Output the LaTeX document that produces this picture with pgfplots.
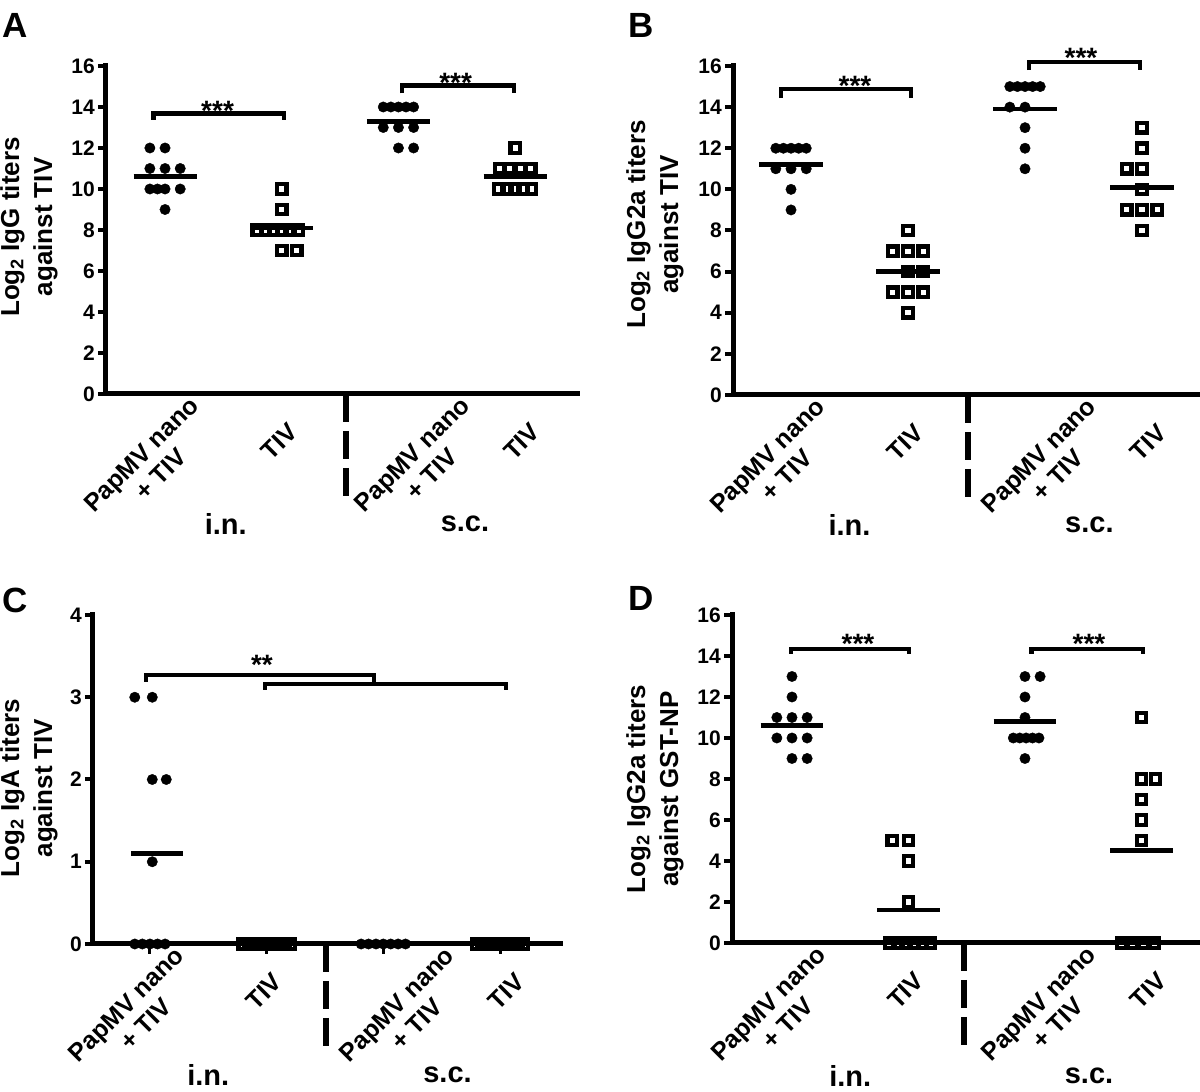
\documentclass[border=0pt]{standalone}
\usepackage{fontspec}
\setmainfont{Liberation Sans}
\usepackage{pgfplots}
\pgfplotsset{compat=1.18}

\pgfplotsset{
  panel/.style={
    scale only axis, anchor=south west, clip=false,
    axis x line=bottom, axis y line=left,
    axis line style={line width=5pt,-,line cap=rect},
    ymin=0,
    tick align=outside,
    major tick length=8pt,
    ytick style={line width=4pt,black},
    xtick style={draw=none},
    xtick={1,3.32},
    xticklabels={{PapMV nano\\+ TIV},{PapMV nano\\+ TIV}},
    xticklabel style={font=\bfseries\fontsize{25}{28}\selectfont, align=center, anchor=center, rotate=45, xshift=-54pt, yshift=-34pt},
    extra x ticks={2,4.08},
    extra x tick labels={TIV,TIV},
    extra x tick style={xticklabel style={xshift=24.3pt, yshift=8.2pt}},
    yticklabel style={font=\bfseries\fontsize{21}{25}\selectfont, inner xsep=3pt},
    /pgf/number format/assume math mode=true,
    every axis y label/.style={at={(axis description cs:0,0.5)}, anchor=center, rotate=90,
       font=\bfseries\fontsize{26}{33}\selectfont, align=center},
  },
  circ/.style={only marks, mark=*, mark size=5.2pt, mark options={fill=black, draw=black, line width=0.4pt}},
  sq/.style={only marks, mark=square, mark size=4.7pt, mark options={draw=black, line width=4.3pt, fill=none}},
  meanl/.style={no marks, line width=4.5pt, black},
}
\tikzset{
  brk/.style={line width=4.5pt, black},
  divl/.style={line width=6pt, black, dash pattern=on 28pt off 9pt},
}
\newcommand{\starfont}{\bfseries\fontsize{28}{32}\selectfont}
\newcommand{\grpfont}{\bfseries\fontsize{29}{34}\selectfont}
\newcommand{\pfont}{\bfseries\fontsize{35}{40}\selectfont}

\begin{document}
\begin{tikzpicture}[x=1pt,y=1pt]
\useasboundingbox (0pt,0pt) rectangle (1200pt,1092pt);

% ---------------- Panel A ----------------
\begin{axis}[panel, at={(106pt,698pt)}, width=471pt, height=328pt,
  xmin=0.494, xmax=4.53, ymax=16, ytick={0,2,...,16},
  ylabel={Log\textsubscript{2} IgG titers\\against TIV}, ylabel style={xshift=3pt, yshift=77pt}]
\addplot[circ] coordinates {(0.87,12)(1,12)(0.87,11)(1,11)(1.13,11)(0.87,10)(0.935,10)(1,10)(1.13,10)(1,9)};
\addplot[sq] coordinates {(2,10)(2,9)(1.79,8)(1.86,8)(1.93,8)(2,8)(2.07,8)(2.14,8)(2,7)(2.13,7)};
\addplot[circ] coordinates {(2.87,14)(2.935,14)(3,14)(3.065,14)(3.13,14)(2.87,13)(3,13)(3.13,13)(3,12)(3.13,12)};
\addplot[sq] coordinates {(4,12)(3.865,11)(3.955,11)(4.045,11)(4.135,11)(3.86,10)(3.93,10)(4,10)(4.07,10)(4.14,10)};
\addplot[meanl] coordinates {(0.73,10.6)(1.27,10.6)};
\addplot[meanl] coordinates {(1.73,8.1)(2.27,8.1)};
\addplot[meanl] coordinates {(2.73,13.3)(3.27,13.3)};
\addplot[meanl] coordinates {(3.73,10.6)(4.27,10.6)};
\draw[brk] (axis cs:0.9,13.38) |- (axis cs:2.02,13.68) -- (axis cs:2.02,13.38);
\draw[brk] (axis cs:3.03,14.66) |- (axis cs:3.99,15.05) -- (axis cs:3.99,14.66);
\node[font=\starfont, anchor=base, yshift=-7pt] at (axis cs:1.45,13.68) {***};
\node[font=\starfont, anchor=base, yshift=-7pt] at (axis cs:3.49,15.05) {***};
\draw[divl] (axis cs:2.55,0) -- ++(0pt,-102pt);
\node[font=\grpfont] at (axis cs:1.52,0) [yshift=-130pt] {i.n.};
\node[font=\grpfont] at (axis cs:3.57,0) [yshift=-130pt] {s.c.};
\end{axis}

% ---------------- Panel B ----------------
\begin{axis}[panel, at={(733pt,697pt)}, width=466pt, height=329pt,
  xmin=0.504, xmax=4.487, ymax=16, ytick={0,2,...,16},
  ylabel={Log\textsubscript{2} IgG2a titers\\against TIV}, ylabel style={xshift=6pt, yshift=78pt}]
\addplot[circ] coordinates {(0.87,12)(0.935,12)(1,12)(1.065,12)(1.13,12)(0.87,11)(1,11)(1.13,11)(1,10)(1,9)};
\addplot[sq] coordinates {(2,8)(1.87,7)(2,7)(2.13,7)(2,6)(2.13,6)(1.87,5)(2,5)(2.13,5)(2,4)};
\addplot[circ] coordinates {(2.87,15)(2.935,15)(3,15)(3.065,15)(3.13,15)(2.87,14)(3,14)(3,13)(3,12)(3,11)};
\addplot[sq] coordinates {(4,13)(4,12)(3.87,11)(4,11)(4,10)(3.87,9)(4,9)(4.13,9)(4,8)};
\addplot[meanl] coordinates {(0.73,11.2)(1.27,11.2)};
\addplot[meanl] coordinates {(1.73,6.0)(2.27,6.0)};
\addplot[meanl] coordinates {(2.73,13.9)(3.27,13.9)};
\addplot[meanl] coordinates {(3.73,10.1)(4.27,10.1)};
\draw[brk] (axis cs:0.914,14.44) |- (axis cs:2.025,14.88) -- (axis cs:2.025,14.44);
\draw[brk] (axis cs:3.034,15.8) |- (axis cs:3.983,16.2) -- (axis cs:3.983,15.8);
\node[font=\starfont, anchor=base, yshift=-6pt] at (axis cs:1.547,14.88) {***};
\node[font=\starfont, anchor=base, yshift=-6pt] at (axis cs:3.478,16.2) {***};
\draw[divl] (axis cs:2.513,0) -- ++(0pt,-102pt);
\node[font=\grpfont] at (axis cs:1.5,0) [yshift=-130pt] {i.n.};
\node[font=\grpfont] at (axis cs:3.55,0) [yshift=-130pt] {s.c.};
\end{axis}

% ---------------- Panel C ----------------
\begin{axis}[panel, at={(93pt,148pt)}, width=467pt, height=329pt,
  xmin=0.512, xmax=4.514, ymax=4, ytick={0,1,2,3,4},
  ylabel={Log\textsubscript{2} IgA titers\\against TIV}, ylabel style={xshift=-8.5pt, yshift=64pt}]
\addplot[circ] coordinates {(0.87,3)(1.02,3)(1.02,2)(1.14,2)(1.02,1)(0.87,0)(0.935,0)(1,0)(1.065,0)(1.13,0)};
\addplot[sq] coordinates {(1.8,0)(1.844,0)(1.889,0)(1.933,0)(1.978,0)(2.022,0)(2.067,0)(2.111,0)(2.156,0)(2.2,0)};
\addplot[circ] coordinates {(2.81,0)(2.873,0)(2.937,0)(3,0)(3.063,0)(3.127,0)(3.19,0)};
\addplot[sq] coordinates {(3.8,0)(3.844,0)(3.889,0)(3.933,0)(3.978,0)(4.022,0)(4.067,0)(4.111,0)(4.156,0)(4.2,0)};
\addplot[meanl] coordinates {(0.84,1.1)(1.28,1.1)};
\draw[line width=3pt] (axis cs:1,0) -- ++(0pt,-10.5pt);
\draw[line width=3pt] (axis cs:2,0) -- ++(0pt,-10.5pt);
\draw[line width=3pt] (axis cs:3,0) -- ++(0pt,-10.5pt);
\draw[line width=3pt] (axis cs:4,0) -- ++(0pt,-10.5pt);
\draw[brk] (axis cs:0.966,3.19) |- (axis cs:2.92,3.27) -- (axis cs:2.92,3.19);
\draw[brk] (axis cs:1.986,3.09) |- (axis cs:4.05,3.16) -- (axis cs:4.05,3.09);
\node[font=\starfont, anchor=base, yshift=1pt] at (axis cs:1.96,3.27) {**};
\draw[divl] (axis cs:2.509,0) -- ++(0pt,-103pt);
\node[font=\grpfont] at (axis cs:1.5,0) [yshift=-131pt] {i.n.};
\node[font=\grpfont] at (axis cs:3.55,0) [yshift=-131pt] {s.c.};
\end{axis}

% ---------------- Panel D ----------------
\begin{axis}[panel, at={(732pt,149pt)}, width=467pt, height=328pt,
  xmin=0.485, xmax=4.494, ymax=16, ytick={0,2,...,16},
  ylabel={Log\textsubscript{2} IgG2a titers\\against GST-NP}, ylabel style={xshift=-10pt, yshift=77pt}]
\addplot[circ] coordinates {(1,13)(1,12)(0.87,11)(1,11)(1.13,11)(0.87,10)(1,10)(1.13,10)(1,9)(1.13,9)};
\addplot[sq] coordinates {(1.86,5)(2,5)(2,4)(2,2)(1.84,0)(1.91,0)(1.98,0)(2.05,0)(2.12,0)(2.19,0)};
\addplot[circ] coordinates {(3,13)(3.13,13)(3,12)(3,11)(2.9,10)(2.955,10)(3.01,10)(3.065,10)(3.12,10)(3,9)};
\addplot[sq] coordinates {(4,11)(4,8)(4.12,8)(4,7)(4,6)(4,5)(3.83,0)(3.92,0)(4.02,0)(4.11,0)};
\addplot[meanl] coordinates {(0.73,10.6)(1.27,10.6)};
\addplot[meanl] coordinates {(1.73,1.6)(2.27,1.6)};
\addplot[meanl] coordinates {(2.73,10.8)(3.27,10.8)};
\addplot[meanl] coordinates {(3.73,4.5)(4.27,4.5)};
\draw[brk] (axis cs:0.991,14.1) |- (axis cs:2.004,14.34) -- (axis cs:2.004,14.1);
\draw[brk] (axis cs:3.056,14.1) |- (axis cs:4.013,14.34) -- (axis cs:4.013,14.1);
\node[font=\starfont, anchor=base, yshift=-4pt] at (axis cs:1.567,14.34) {***};
\node[font=\starfont, anchor=base, yshift=-4pt] at (axis cs:3.55,14.34) {***};
\draw[divl] (axis cs:2.477,0) -- ++(0pt,-103pt);
\node[font=\grpfont] at (axis cs:1.5,0) [yshift=-133pt] {i.n.};
\node[font=\grpfont] at (axis cs:3.55,0) [yshift=-133pt] {s.c.};
\end{axis}

% panel letters
\node[font=\pfont] at (15.5pt,1067pt) {A};
\node[font=\pfont] at (641pt,1067pt) {B};
\node[font=\pfont] at (15pt,492pt) {C};
\node[font=\pfont] at (641pt,494pt) {D};
\end{tikzpicture}
\end{document}
